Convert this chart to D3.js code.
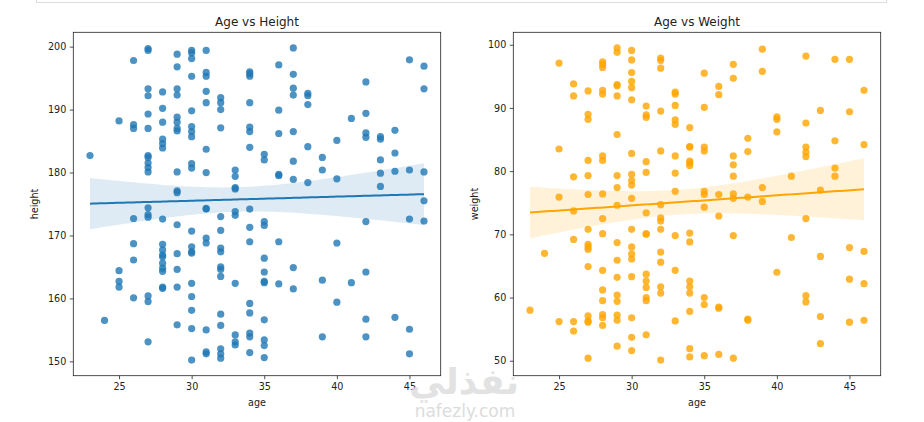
<!DOCTYPE html>
<html>
<head>
<meta charset="utf-8">
<script src="https://cdn.jsdelivr.net/npm/d3@7"></script>
<style>
  body { margin: 0; background: #fff; }
  svg text { font-family: 'DejaVu Sans', sans-serif; fill: #222; }
</style>
</head>
<body>
<div class="canvas"></div>
<script>
/*--------------------------------
  DATA
--------------------------------*/
const ages = [23, 24, 25, 26, 27, 28, 29, 30, 31, 32, 33, 34, 35, 36, 37, 38, 39, 40, 41, 42, 43, 44, 45, 46];

// height values, one list per age
const heightByAge = [
  [182.7],
  [156.5],
  [188.2, 164.4, 162.7, 161.8],
  [197.8, 187.6, 187.0, 172.7, 168.7, 166.1, 160.1],
  [199.7, 199.4, 193.3, 192.2, 189.3, 187.0, 182.7, 182.4, 181.5, 180.8, 180.1, 174.4, 173.3, 172.9, 160.4, 159.5, 153.1],
  [192.8, 190.2, 188.0, 185.3, 184.6, 183.9, 172.6, 168.6, 167.7, 166.9, 166.6, 165.6, 164.8, 164.3, 161.8, 161.6],
  [198.8, 196.8, 193.3, 192.3, 188.8, 188.0, 187.0, 186.6, 180.1, 177.1, 176.8, 171.7, 167.1, 164.6, 161.8, 155.8],
  [199.4, 199.0, 198.1, 195.3, 189.8, 187.3, 186.5, 185.7, 181.4, 180.7, 170.7, 168.2, 167.4, 167.2, 162.4, 160.3, 158.1, 155.2, 150.2],
  [199.4, 195.9, 195.3, 192.9, 191.1, 183.7, 180.0, 174.3, 174.2, 169.6, 168.8, 155.0, 151.5, 151.2],
  [191.9, 191.1, 190.0, 187.1, 173.0, 170.8, 168.0, 167.4, 165.0, 164.6, 163.5, 157.5, 155.7, 152.0, 151.2, 150.5],
  [180.4, 179.4, 177.6, 177.4, 173.8, 173.2, 162.4, 154.2, 153.1, 152.6],
  [196.0, 195.7, 195.3, 191.1, 187.2, 186.5, 184.0, 174.2, 171.3, 169.0, 159.2, 157.7, 154.5, 153.9, 151.4],
  [182.9, 182.0, 172.2, 171.6, 166.4, 164.2, 162.7, 162.5, 156.6, 153.4, 152.5, 150.6],
  [197.1, 189.9, 186.2, 179.7, 179.5, 169.0, 162.3],
  [199.8, 195.6, 193.4, 192.3, 186.5, 181.8, 178.9, 164.9, 161.5],
  [192.6, 192.2, 190.8, 184.1, 178.4],
  [182.4, 180.4, 162.9, 153.9],
  [185.1, 179.0, 168.8, 159.4],
  [188.6, 162.5],
  [194.4, 189.4, 186.3, 185.6, 172.2, 164.2, 156.7, 153.9],
  [185.7, 185.3, 182.0, 179.9, 177.8],
  [186.7, 183.1, 180.2, 157.0],
  [197.9, 180.4, 172.6, 155.1, 151.2],
  [196.9, 193.3, 180.1, 175.5, 172.3],
];

// weight values, one list per age
const weightByAge = [
  [58.0],
  [67.0],
  [97.1, 83.5, 75.9, 56.2],
  [93.8, 91.9, 79.1, 73.7, 69.2, 56.2, 54.7],
  [92.7, 89.0, 88.2, 81.7, 79.3, 76.3, 70.8, 68.4, 68.0, 67.6, 64.9, 57.1, 56.3, 56.1, 50.4],
  [97.3, 96.9, 96.4, 92.8, 92.2, 82.4, 81.7, 76.4, 72.5, 70.1, 64.3, 61.2, 59.5, 57.3, 56.8, 55.6],
  [99.5, 98.8, 93.7, 93.5, 91.9, 85.8, 79.3, 77.4, 74.6, 68.7, 65.9, 63.2, 60.4, 59.4, 57.2, 56.4, 52.3],
  [99.1, 97.6, 95.6, 94.2, 93.2, 91.3, 82.8, 79.5, 78.5, 77.8, 75.7, 70.8, 68.0, 66.9, 66.1, 63.3, 56.8, 53.7, 51.6],
  [90.3, 88.9, 88.5, 81.5, 79.8, 73.4, 70.1, 70.0, 63.7, 62.6, 61.6, 60.0, 59.5, 54.1],
  [97.9, 97.5, 96.3, 89.5, 83.2, 74.7, 72.6, 72.1, 70.8, 67.2, 65.6, 61.7, 60.7, 50.1],
  [92.5, 92.2, 90.4, 88.1, 87.4, 82.4, 79.7, 76.8, 69.8, 64.3, 56.3],
  [86.9, 83.9, 83.8, 81.6, 81.3, 80.9, 70.2, 68.8, 62.6, 61.7, 60.7, 57.8, 51.9, 50.6],
  [95.5, 90.1, 83.8, 83.2, 76.8, 76.3, 74.3, 60.0, 58.9, 50.8],
  [93.4, 92.1, 76.3, 72.9, 58.5, 58.3, 51.0],
  [96.9, 94.7, 82.4, 81.0, 79.2, 76.4, 75.7, 69.8, 50.4],
  [85.2, 83.1, 75.9, 56.6, 56.4],
  [99.3, 95.8, 77.4, 75.2],
  [88.6, 88.2, 86.2, 64.0],
  [79.2, 69.5],
  [98.2, 87.6, 83.8, 83.0, 82.3, 72.5, 60.3, 59.3],
  [89.6, 77.0, 66.5, 57.0, 52.7],
  [97.7, 84.8, 80.5, 79.2],
  [97.7, 89.4, 67.9, 62.9, 56.1],
  [92.8, 84.2, 67.3, 62.2, 56.4],
];

const xTicks = [25, 30, 35, 40, 45];
const heightTicks = [150, 160, 170, 180, 190, 200];
const weightTicks = [50, 60, 70, 80, 90, 100];

/*--------------------------------
  SETUP
--------------------------------*/
const svg = d3.select('.canvas')
  .append('svg')
  .attr('width', 924)
  .attr('height', 422);

// notebook cell border at the top
svg.append('rect')
  .attr('x', 36.5)
  .attr('y', -10)
  .attr('width', 850)
  .attr('height', 12.5)
  .attr('fill', 'none')
  .attr('stroke', '#dcdcdc');

const plotTop = 32.3;
const plotBottom = 375.7;

// flatten per-age lists into points
const toPoints = byAge => ages.flatMap((a, i) => byAge[i].map(v => ({ x: a, y: v })));

// least squares fit + 95% band for the mean
const fit = (pts) => {
  const n = pts.length;
  const mx = d3.mean(pts, d => d.x);
  const my = d3.mean(pts, d => d.y);
  const sxx = d3.sum(pts, d => (d.x - mx) ** 2);
  const sxy = d3.sum(pts, d => (d.x - mx) * (d.y - my));
  const b = sxy / sxx;
  const a = my - b * mx;
  const s = Math.sqrt(d3.sum(pts, d => (d.y - a - b * d.x) ** 2) / (n - 2));
  return (x) => {
    const yhat = a + b * x;
    const se = s * Math.sqrt(1 / n + (x - mx) ** 2 / sxx);
    return { x, y: yhat, lo: yhat - 1.97 * se, hi: yhat + 1.97 * se };
  };
};

const pad = ([lo, hi]) => [lo - (hi - lo) * 0.05, hi + (hi - lo) * 0.05];

/*--------------------------------
  DRAW ONE PANEL
--------------------------------*/
const panel = (left, right, byAge, yTicks, color, title, yLabel) => {
  const pts = toPoints(byAge);
  const g = svg.append('g');

  const x = d3.scaleLinear()
    .domain(pad(d3.extent(pts, d => d.x)))
    .range([left, right]);
  const y = d3.scaleLinear()
    .domain(pad(d3.extent(pts, d => d.y)))
    .range([plotBottom, plotTop]);

  // points
  g.selectAll('circle')
    .data(pts)
    .enter()
    .append('circle')
    .attr('cx', d => x(d.x))
    .attr('cy', d => y(d.y))
    .attr('r', 3.6)
    .attr('fill', color)
    .attr('fill-opacity', 0.8);

  // regression line and band
  const model = fit(pts);
  const [x0, x1] = d3.extent(pts, d => d.x);
  const line = d3.range(0, 101).map(i => model(x0 + (x1 - x0) * i / 100));

  g.append('path')
    .datum(line)
    .attr('fill', color)
    .attr('fill-opacity', 0.15)
    .attr('d', d3.area().x(d => x(d.x)).y0(d => y(d.lo)).y1(d => y(d.hi)));

  g.append('path')
    .datum(line)
    .attr('fill', 'none')
    .attr('stroke', color)
    .attr('stroke-width', 2)
    .attr('d', d3.line().x(d => x(d.x)).y(d => y(d.y)));

  // axes
  const xAxis = d3.axisBottom(x).tickValues(xTicks).tickSize(3.5).tickPadding(3.5);
  const yAxis = d3.axisLeft(y).tickValues(yTicks).tickSize(3.5).tickPadding(3.5);

  const xAxisGroup = g.append('g')
    .attr('transform', `translate(0, ${plotBottom})`)
    .call(xAxis);
  const yAxisGroup = g.append('g')
    .attr('transform', `translate(${left}, 0)`)
    .call(yAxis);

  [xAxisGroup, yAxisGroup].forEach((ax) => {
    ax.select('.domain').remove();
    ax.selectAll('line').attr('stroke', '#222').attr('stroke-width', 0.8);
    ax.selectAll('text')
      .attr('font-family', 'DejaVu Sans, sans-serif')
      .attr('font-size', 9.6)
      .attr('fill', '#222');
  });

  // frame
  g.append('rect')
    .attr('x', left)
    .attr('y', plotTop)
    .attr('width', right - left)
    .attr('height', plotBottom - plotTop)
    .attr('fill', 'none')
    .attr('stroke', '#222')
    .attr('stroke-width', 0.8);

  // titles
  g.append('text')
    .attr('x', (left + right) / 2)
    .attr('y', 25.5)
    .attr('text-anchor', 'middle')
    .attr('font-size', 12)
    .text(title);

  g.append('text')
    .attr('x', (left + right) / 2)
    .attr('y', 406)
    .attr('text-anchor', 'middle')
    .attr('font-size', 9.6)
    .text('age');

  g.append('text')
    .attr('transform', `translate(${left - 35}, ${(plotTop + plotBottom) / 2}) rotate(-90)`)
    .attr('text-anchor', 'middle')
    .attr('font-size', 9.6)
    .text(yLabel);
};

panel(73.3, 440.7, heightByAge, heightTicks, '#1f77b4', 'Age vs Height', 'height');
panel(513.3, 880.7, weightByAge, weightTicks, '#ffa500', 'Age vs Weight', 'weight');

// watermark
svg.append('text')
  .attr('x', 464)
  .attr('y', 394)
  .attr('text-anchor', 'middle')
  .attr('font-family', 'Noto Sans, DejaVu Sans, sans-serif')
  .attr('font-size', 36)
  .attr('font-weight', 'bold')
  .style('fill', '#dedede')
  .attr('opacity', 0.85)
  .text('نفذلي');

svg.append('text')
  .attr('x', 465)
  .attr('y', 417)
  .attr('text-anchor', 'middle')
  .attr('font-family', 'Noto Sans, DejaVu Sans, sans-serif')
  .attr('font-size', 17)
  .style('fill', '#dcdcdc')
  .text('nafezly.com');
</script>
</body>
</html>
